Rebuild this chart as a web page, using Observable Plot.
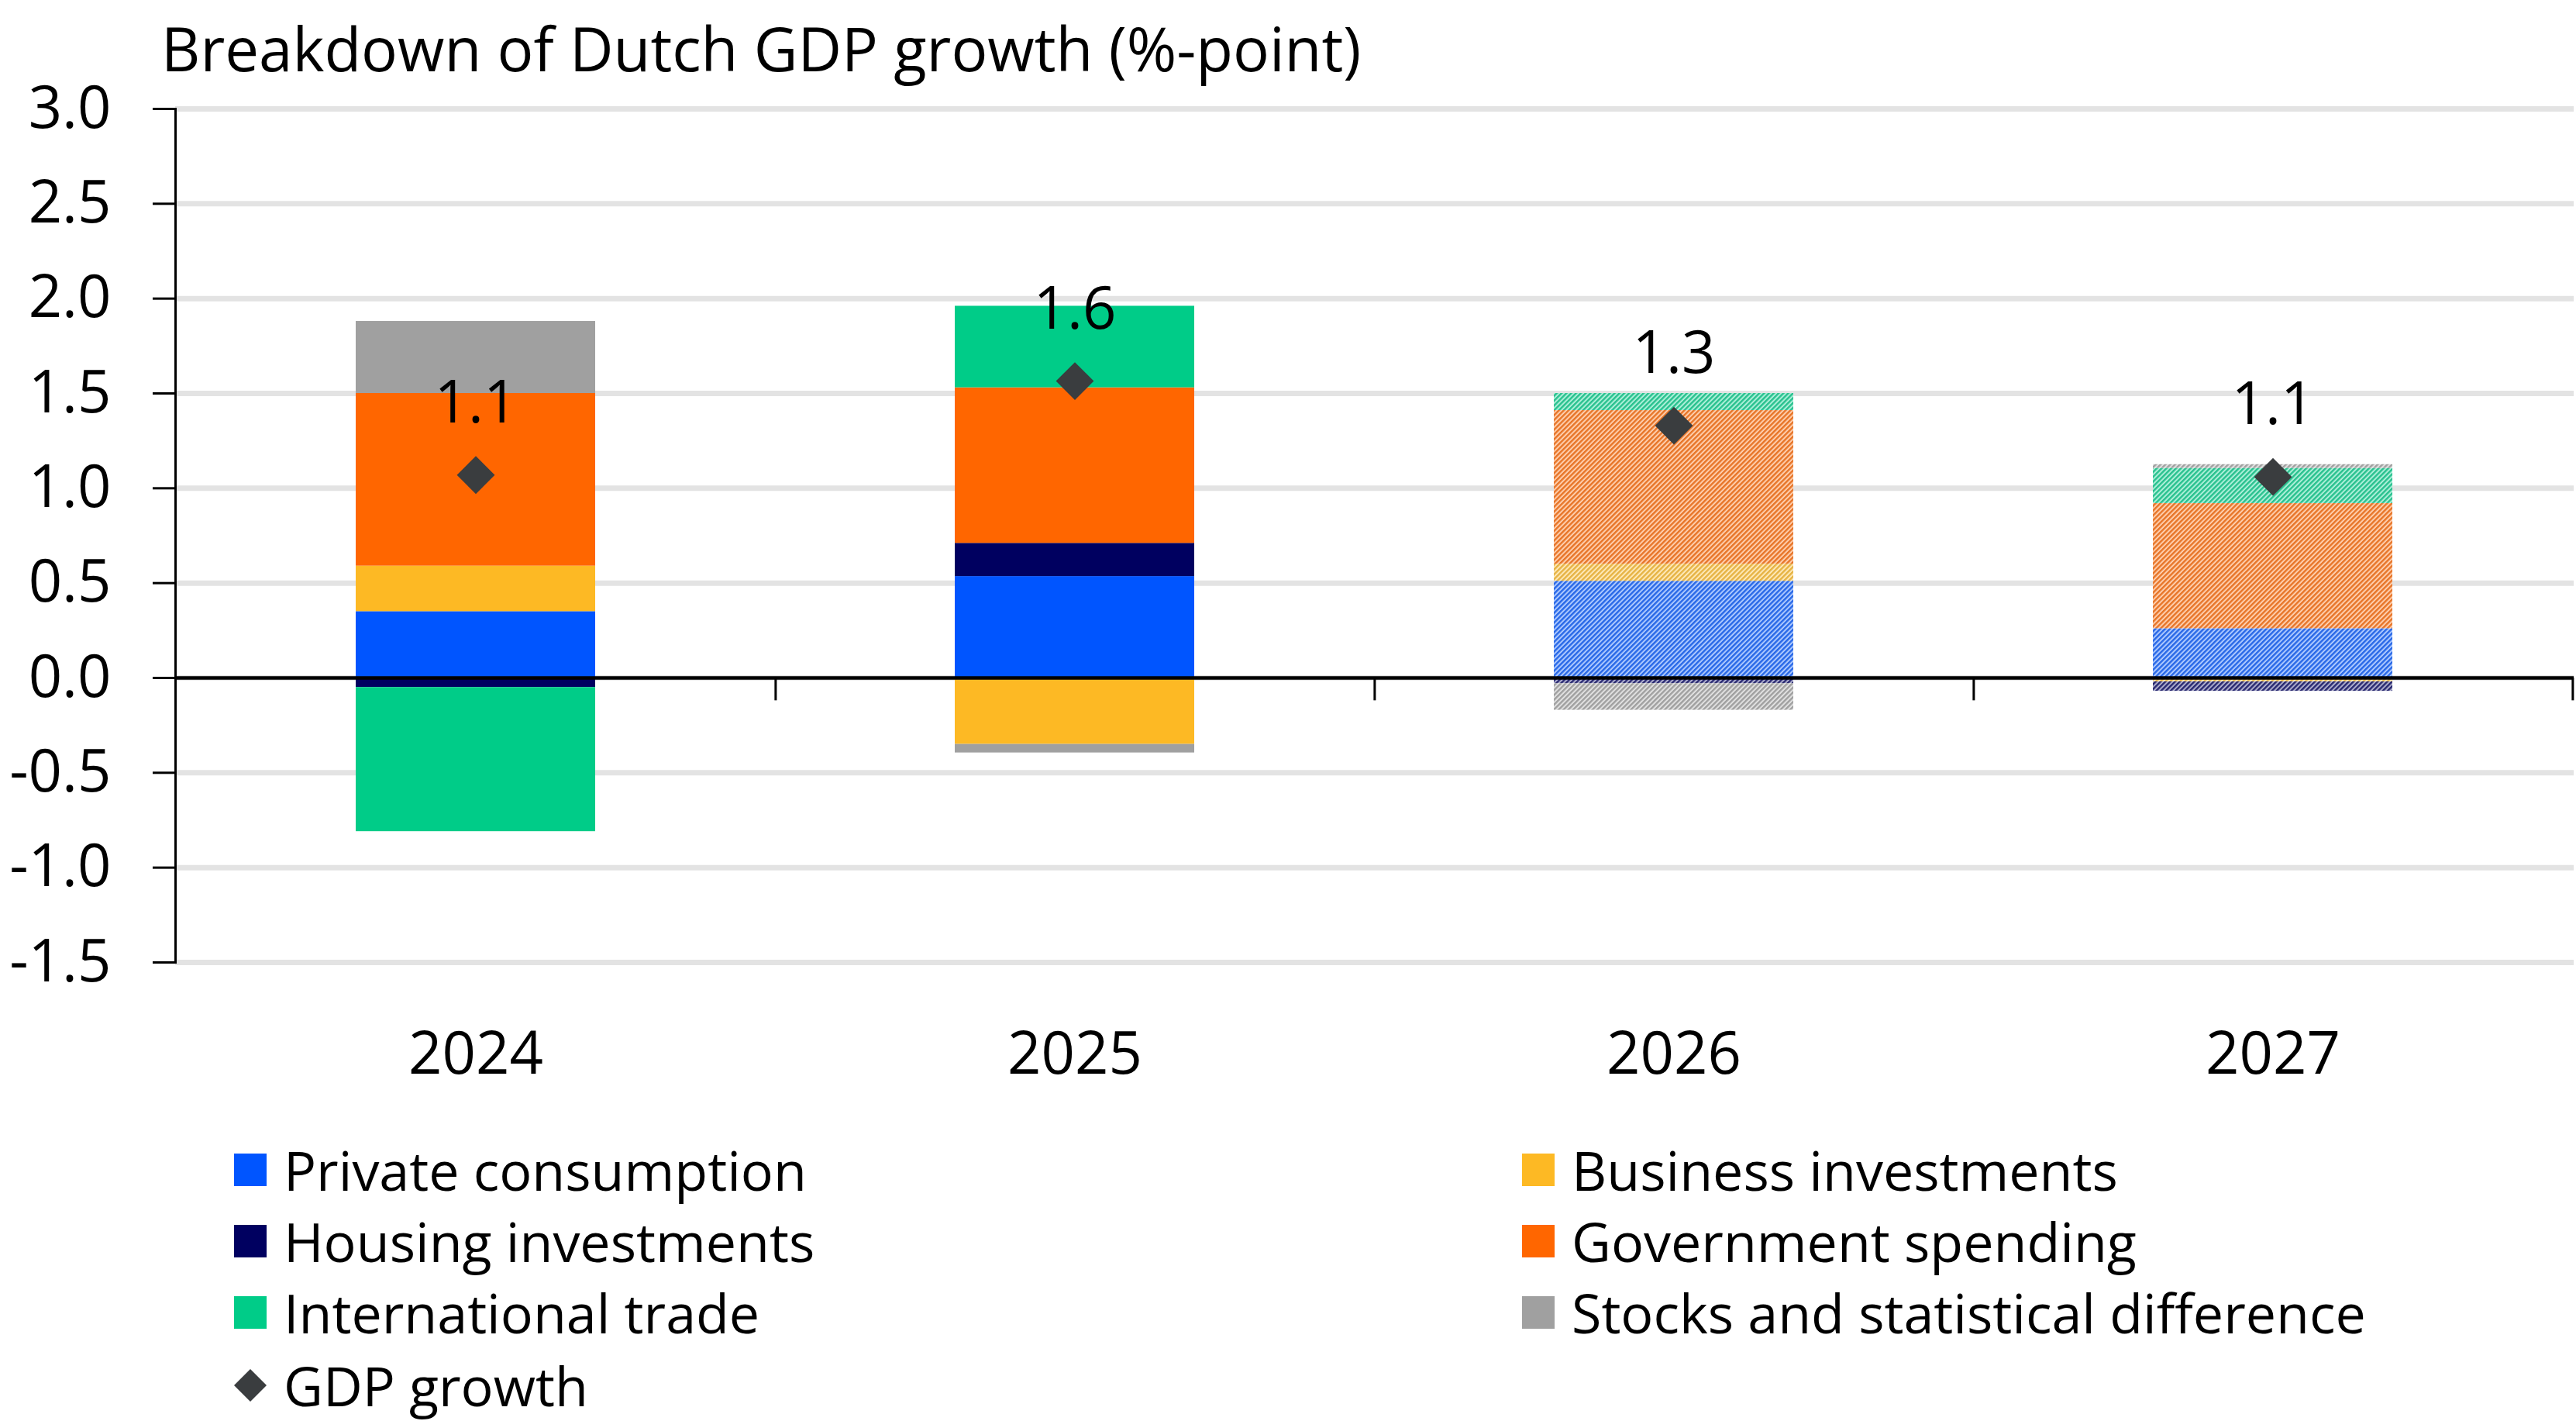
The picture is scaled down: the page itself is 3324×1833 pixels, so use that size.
<!DOCTYPE html>
<html>
<head>
<meta charset="utf-8">
<script src="https://cdn.jsdelivr.net/npm/d3@7"></script>
<script src="https://cdn.jsdelivr.net/npm/@observablehq/plot@0.6"></script>
<style>
  html, body { margin: 0; padding: 0; background: #ffffff; }
  body { width: 3324px; height: 1833px; position: relative; overflow: hidden; font-family: "Open Sans", sans-serif; color: #000; }
  #title { position: absolute; left: 208px; top: 23px; font-size: 78px; line-height: 1; white-space: nowrap; z-index: 2; }
  #chart { position: absolute; left: 0; top: 100px; z-index: 1; }
  .lg { position: absolute; height: 100px; display: flex; align-items: center; font-size: 70px; line-height: 1; white-space: nowrap; }
  .sw { width: 42px; height: 42px; margin-right: 22px; flex: none; }
  .dm { width: 42px; height: 42px; margin-right: 22px; flex: none; }
</style>
</head>
<body>
<div id="title">Breakdown of Dutch GDP growth (%-point)</div>
<div id="chart"></div>
<div id="legend"></div>
<script>
const years = ["2024", "2025", "2026", "2027"];
const forecastYears = ["2026", "2027"];
const components = ["Private consumption", "Business investments", "Housing investments", "Government spending", "International trade", "Stocks and statistical difference"];
const componentColors = ["#0055ff", "#fdb924", "#000060", "#ff6600", "#00cc88", "#a0a0a0"];

const privateConsumption = [0.35, 0.535, 0.51, 0.26];
const businessInvestments = [0.24, -0.35, 0.09, -0.02];
const housingInvestments = [-0.05, 0.175, -0.03, -0.05];
const governmentSpending = [0.91, 0.82, 0.81, 0.66];
const internationalTrade = [-0.76, 0.43, 0.09, 0.185];
const stocksStatDiff = [0.38, -0.045, -0.14, 0.02];
const gdpGrowth = [1.07, 1.565, 1.33, 1.06];
const gdpLabels = ["1.1", "1.6", "1.3", "1.1"];
const yTicks = [-1.5, -1.0, -0.5, 0.0, 0.5, 1.0, 1.5, 2.0, 2.5, 3.0];

const series = [privateConsumption, businessInvestments, housingInvestments, governmentSpending, internationalTrade, stocksStatDiff];

const W = 3324, H = 1320;
const mL = 226, mR = 3, mT = 40, mB = 179;
const halfStep = (W - mL - mR) / years.length / 2;

const rows = years.flatMap((year, i) => components.map((c, j) => ({
  year, component: c, value: series[j][i],
  key: forecastYears.includes(year) ? c + " (forecast)" : c
})));
const gdp = years.map((year, i) => ({year, value: gdpGrowth[i], label: gdpLabels[i]}));

const colorDomain = components.concat(components.map(c => c + " (forecast)"));
const colorRange = componentColors.concat(components.map((c, j) => `url(#hatch${j})`));

const svg = Plot.plot({
  width: W, height: H,
  marginLeft: mL, marginRight: mR, marginTop: mT, marginBottom: mB,
  style: {fontFamily: "'Open Sans', sans-serif", color: "#000", background: "transparent", overflow: "visible"},
  x: {domain: years, paddingInner: 0.6, paddingOuter: 0.3, label: null},
  y: {domain: [-1.5, 3.0], ticks: yTicks, label: null},
  color: {domain: colorDomain, range: colorRange},
  marks: [
    Plot.gridY(yTicks, {stroke: "#e3e3e3", strokeWidth: 7, strokeOpacity: 1}),
    Plot.barY(rows, {x: "year", y: "value", fill: "key"}),
    Plot.ruleY([0], {stroke: "#000", strokeWidth: 4.5}),
    Plot.ruleX(years, {x: d => d, y1: 0, y2: -0.12, dx: halfStep, stroke: "#000", strokeWidth: 3}),
    Plot.frame({anchor: "left", stroke: "#000", strokeWidth: 3}),
    Plot.axisY(yTicks, {tickFormat: d => d.toFixed(1), tickSize: 29, tickPadding: 54, fontSize: 76, stroke: "#000", strokeWidth: 3, fill: "#000", label: null}),
    Plot.axisX({tickSize: 0, tickPadding: 90, fontSize: 76, fill: "#000", label: null}),
    Plot.dot(gdp, {x: "year", y: "value", symbol: "diamond2", r: 22, fill: "#3a3d3f", stroke: "none"}),
    Plot.text(gdp, {x: "year", y: "value", text: "label", dy: -92, fontSize: 76, fill: "#000"})
  ]
});

// hatch patterns for forecast years
const defs = d3.select(svg).insert("defs", ":first-child");
componentColors.forEach((c, j) => {
  const p = defs.append("pattern")
    .attr("id", `hatch${j}`)
    .attr("patternUnits", "userSpaceOnUse")
    .attr("width", 4.4).attr("height", 4.4)
    .attr("patternTransform", "rotate(45)");
  p.append("rect").attr("width", 4.4).attr("height", 4.4).attr("fill", d3.interpolateRgb(c, "#ffffff")(0.68));
  p.append("rect").attr("width", 2.4).attr("height", 4.4).attr("fill", d3.interpolateRgb(c, "#a0a0a0")(0.25));
});

document.getElementById("chart").appendChild(svg);

// legend
const legend = document.getElementById("legend");
const rowCenters = [1509, 1601, 1693, 1787];
const colLeft = [302, 1964];
const legendItems = [
  {label: components[0], color: componentColors[0], col: 0, row: 0},
  {label: components[1], color: componentColors[1], col: 1, row: 0},
  {label: components[2], color: componentColors[2], col: 0, row: 1},
  {label: components[3], color: componentColors[3], col: 1, row: 1},
  {label: components[4], color: componentColors[4], col: 0, row: 2},
  {label: components[5], color: componentColors[5], col: 1, row: 2},
  {label: "GDP growth", diamond: true, col: 0, row: 3}
];
legendItems.forEach(it => {
  const d = document.createElement("div");
  d.className = "lg";
  d.style.left = colLeft[it.col] + "px";
  d.style.top = (rowCenters[it.row] - 50) + "px";
  if (it.diamond) {
    d.innerHTML = `<svg class="dm" viewBox="0 0 42 42"><path d="M21 0L42 21L21 42L0 21Z" fill="#3a3d3f"/></svg><span>${it.label}</span>`;
  } else {
    d.innerHTML = `<div class="sw" style="background:${it.color}"></div><span>${it.label}</span>`;
  }
  legend.appendChild(d);
});
</script>
</body>
</html>
